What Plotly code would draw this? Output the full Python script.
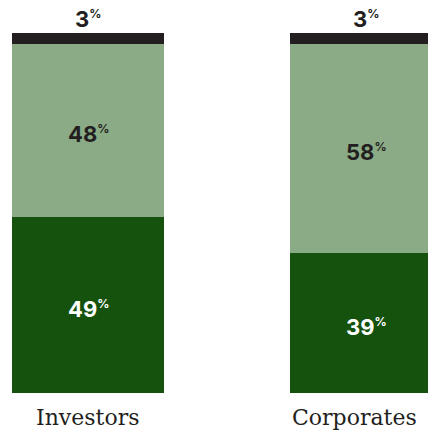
import plotly.graph_objects as go

categories = ["Investors", "Corporates"]
dark_share = [49, 39]
light_share = [48, 58]
black_share = [3, 3]

DARK = "#14520e"
LIGHT = "#8bab87"
BLACK = "#231f20"
NUM_FONT = "Inter"


def pct(v):
    return f"{v}<sup><span style='font-size:12px'>%</span></sup>"


fig = go.Figure()
for vals, col in [(dark_share, DARK), (light_share, LIGHT), (black_share, BLACK)]:
    fig.add_trace(go.Bar(
        x=categories, y=vals, marker_color=col, width=0.547,
        marker_line_width=0, textposition="none",
        cliponaxis=False, hoverinfo="skip"))

for i, c in enumerate(categories):
    d, l, b = dark_share[i], light_share[i], black_share[i]
    # value labels centred in their segments
    fig.add_annotation(
        x=c, xref="x", y=d / 2, yref="y", yanchor="middle",
        text=pct(d), showarrow=False, yshift=-4,
        font=dict(family=NUM_FONT, size=22, color="white", weight=700))
    fig.add_annotation(
        x=c, xref="x", y=d + l / 2, yref="y", yanchor="middle",
        text=pct(l), showarrow=False, yshift=-4,
        font=dict(family=NUM_FONT, size=22, color=BLACK, weight=700))
    fig.add_annotation(
        x=c, xref="x", y=d + l + b, yref="y", yanchor="bottom",
        text=pct(b), showarrow=False, yshift=-1,
        font=dict(family=NUM_FONT, size=22, color=BLACK, weight=700))
    # category labels
    fig.add_annotation(
        x=c, xref="x", y=0, yref="paper", yanchor="top",
        text=c, showarrow=False, yshift=-10,
        xshift=0 if i == 0 else -12,
        font=dict(family="DejaVu Serif", size=22, color=BLACK))

fig.update_layout(
    width=428, height=424,
    margin=dict(l=0, r=0, t=25, b=39),
    barmode="stack", bargap=0,
    showlegend=False,
    plot_bgcolor="white", paper_bgcolor="white",
    xaxis=dict(range=[-0.2878, 1.2518], showticklabels=False, showgrid=False,
               zeroline=False, showline=False, fixedrange=True),
    yaxis=dict(range=[0, 100], visible=False, fixedrange=True),
)

fig.write_html("out.html")
